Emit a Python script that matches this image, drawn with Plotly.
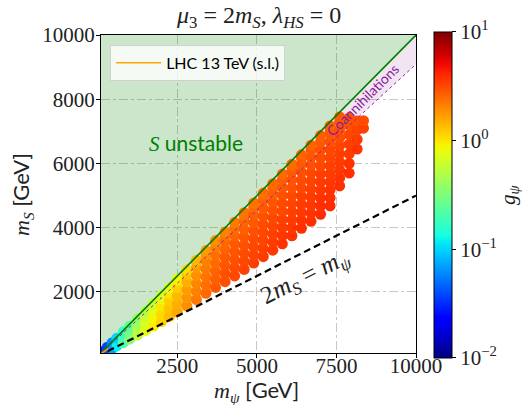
import numpy as np
import plotly.graph_objects as go

# ---------------- data ----------------
col_mpsi = [150, 300, 450, 600, 800, 1000, 1250, 1500, 1750, 2000, 2250, 2500, 2800, 3100, 3400, 3700,
            4000, 4300, 4600, 4900, 5200, 5500, 5800, 6100, 6400, 6700, 7000, 7300, 7600, 7900, 8150, 8350]
col_mS = [
    [90, 140],
    [170, 230, 280],
    [240, 330, 420],
    [320, 440, 560],
    [420, 570, 700, 760],
    [530, 700, 860, 940],
    [660, 860, 1040, 1170],
    [800, 1030, 1240, 1400],
    [940, 1180, 1420, 1600, 1650],
    [1080, 1320, 1560, 1780, 1890],
    [1230, 1480, 1730, 1960, 2130],
    [1380, 1630, 1880, 2130, 2340, 2400],
    [1560, 1810, 2060, 2310, 2540, 2690],
    [1760, 2010, 2260, 2510, 2760, 2930, 2990],
    [1960, 2210, 2460, 2710, 2960, 3170, 3290],
    [2140, 2390, 2640, 2890, 3140, 3390, 3540, 3600],
    [2320, 2570, 2820, 3070, 3320, 3570, 3760, 3870],
    [2500, 2750, 3000, 3250, 3500, 3750, 3980, 4170],
    [2700, 2950, 3200, 3450, 3700, 3950, 4200, 4380, 4470],
    [2900, 3150, 3400, 3650, 3900, 4150, 4400, 4620, 4770],
    [3100, 3350, 3600, 3850, 4100, 4350, 4600, 4850, 5000, 5080],
    [3300, 3550, 3800, 4050, 4300, 4550, 4800, 5050, 5260, 5370],
    [3500, 3750, 4000, 4250, 4500, 4750, 5000, 5250, 5500, 5670],
    [3750, 4000, 4250, 4500, 4750, 5000, 5250, 5500, 5750, 5900, 5980],
    [3980, 4230, 4480, 4730, 4980, 5230, 5480, 5730, 5980, 6180, 6270],
    [4200, 4450, 4700, 4950, 5200, 5450, 5700, 5950, 6200, 6420, 6570],
    [4420, 4670, 4920, 5170, 5420, 5670, 5920, 6170, 6420, 6670, 6870],
    [4680, 4930, 5180, 5430, 5680, 5930, 6180, 6430, 6680, 6930, 7080, 7170],
    [5300, 5550, 5800, 6050, 6300, 6550, 6800, 7050, 7300, 7450],
    [5700, 6000, 6300, 6600, 6900, 7200, 7420],
    [6450, 6750, 7050, 7320],
    [7100, 7330],
]
col_g = [
    [0.02, 0.025],
    [0.035, 0.04, 0.035],
    [0.07, 0.07, 0.06],
    [0.12, 0.12, 0.1],
    [0.22, 0.2, 0.18, 0.16],
    [0.35, 0.32, 0.28, 0.25],
    [0.55, 0.5, 0.42, 0.38],
    [0.75, 0.7, 0.6, 0.5],
    [0.95, 0.9, 0.8, 0.65, 0.6],
    [1.15, 1.1, 1.0, 0.85, 0.7],
    [1.35, 1.3, 1.2, 1.0, 0.8],
    [1.6, 1.5, 1.4, 1.2, 1.0, 0.9],
    [1.9, 1.8, 1.7, 1.5, 1.3, 1.1],
    [2.2, 2.1, 2.0, 1.9, 1.7, 1.5, 1.4],
    [2.5, 2.4, 2.3, 2.2, 2.1, 1.9, 1.7],
    [2.8, 2.7, 2.6, 2.5, 2.4, 2.2, 2.0, 1.9],
    [3.0, 3.0, 2.9, 2.8, 2.6, 2.5, 2.3, 2.1],
    [3.2, 3.1, 3.0, 2.9, 2.8, 2.6, 2.4, 2.2],
    [3.3, 3.2, 3.1, 3.0, 2.9, 2.7, 2.6, 2.4, 2.3],
    [3.4, 3.3, 3.2, 3.1, 3.0, 2.8, 2.7, 2.5, 2.3],
    [3.5, 3.4, 3.3, 3.2, 3.1, 3.0, 2.8, 2.7, 2.5, 2.4],
    [3.6, 3.5, 3.4, 3.3, 3.2, 3.0, 2.9, 2.7, 2.6, 2.5],
    [3.7, 3.6, 3.5, 3.4, 3.2, 3.1, 3.0, 2.8, 2.7, 2.5],
    [3.7, 3.6, 3.5, 3.4, 3.3, 3.2, 3.0, 2.9, 2.8, 2.6, 2.5],
    [3.8, 3.7, 3.6, 3.5, 3.4, 3.2, 3.1, 3.0, 2.8, 2.7, 2.6],
    [3.8, 3.7, 3.6, 3.5, 3.4, 3.3, 3.2, 3.0, 2.9, 2.8, 2.6],
    [3.9, 3.8, 3.7, 3.6, 3.5, 3.4, 3.2, 3.1, 3.0, 2.8, 2.7],
    [3.9, 3.8, 3.7, 3.6, 3.5, 3.4, 3.3, 3.2, 3.0, 2.9, 2.8, 2.7],
    [3.8, 3.7, 3.6, 3.5, 3.4, 3.3, 3.1, 3.0, 2.9, 2.8],
    [3.8, 3.7, 3.5, 3.4, 3.2, 3.0, 2.9],
    [3.7, 3.5, 3.3, 3.0],
    [3.4, 3.1],
]

# boundary lines (data units, GeV)
diag_mpsi = [0, 10000]
unstable_mS = [0, 10000]          # m_S = m_psi
coann_mS = [0, 9091]              # m_S = m_psi / 1.1
half_mS = [0, 5000]               # 2 m_S = m_psi
lhc_mpsi = [0, 320]
lhc_mS = [0, 230]

x_ticks = [2500, 5000, 7500, 10000]
x_labels = ["2500", "5000", "7500", "10000"]
y_ticks = [2000, 4000, 6000, 8000, 10000]
y_labels = ["2000", "4000", "6000", "8000", "10000"]
cb_ticks = [-2, -1, 0, 1]
cb_labels = ["10<sup>\u22122</sup>", "10<sup>\u22121</sup>", "10<sup>0</sup>", "10<sup>1</sup>"]

# ---------------- flatten ----------------
m_psi, m_S, g_psi = [], [], []
for xp, ys, gs in zip(col_mpsi, col_mS, col_g):
    for y, g in zip(ys, gs):
        m_psi.append(xp)
        m_S.append(y)
        g_psi.append(g)
logg = np.log10(np.array(g_psi))

# matplotlib 'jet' colorscale
r_pts = ([0, 0.35, 0.66, 0.89, 1], [0, 0, 1, 1, 0.5])
g_pts = ([0, 0.125, 0.375, 0.64, 0.91, 1], [0, 0, 1, 1, 0, 0])
b_pts = ([0, 0.11, 0.34, 0.65, 1], [0.5, 1, 1, 0, 0])
jet = []
for t in np.linspace(0, 1, 41):
    r = np.interp(t, *r_pts); gg = np.interp(t, *g_pts); b = np.interp(t, *b_pts)
    jet.append([float(t), f"rgb({int(round(r*255))},{int(round(gg*255))},{int(round(b*255))})"])

SERIF = "Liberation Serif, DejaVu Serif, serif"
SANS = "Lato"

fig = go.Figure()

fig.add_trace(go.Scatter(x=[diag_mpsi[0], diag_mpsi[1], diag_mpsi[0]],
                         y=[unstable_mS[0], unstable_mS[1], unstable_mS[1]],
                         fill="toself", fillcolor="rgba(0,128,0,0.2)", mode="none",
                         showlegend=False, hoverinfo="skip"))
fig.add_trace(go.Scatter(x=[diag_mpsi[0], diag_mpsi[1], diag_mpsi[1]],
                         y=[unstable_mS[0], unstable_mS[1], coann_mS[1]],
                         fill="toself", fillcolor="rgba(128,0,128,0.1)", mode="none",
                         showlegend=False, hoverinfo="skip"))

fig.add_trace(go.Scatter(x=m_psi, y=m_S, mode="markers", showlegend=False,
                         marker=dict(size=11, color=logg, colorscale=jet, cmin=-2, cmax=1,
                                     line=dict(width=0),
                                     colorbar=dict(thickness=18, len=326, lenmode="pixels",
                                                   x=1.057, xanchor="left", xpad=0,
                                                   y=0.497, yanchor="middle", ypad=0,
                                                   tickvals=cb_ticks, ticktext=cb_labels,
                                                   ticks="outside", ticklen=4, tickcolor="black",
                                                   tickfont=dict(family=SERIF, size=21, color="#222"),
                                                   outlinewidth=1, outlinecolor="black"))))

fig.add_trace(go.Scatter(x=diag_mpsi, y=unstable_mS, mode="lines",
                         line=dict(color="green", width=1.6), showlegend=False))
fig.add_trace(go.Scatter(x=diag_mpsi, y=coann_mS, mode="lines",
                         line=dict(color="#9b1fb0", width=1, dash="dot"), showlegend=False))
fig.add_trace(go.Scatter(x=diag_mpsi, y=half_mS, mode="lines",
                         line=dict(color="black", width=2.2, dash="7px,4px"), showlegend=False))
fig.add_trace(go.Scatter(x=lhc_mpsi, y=lhc_mS, mode="lines", name="LHC 13 TeV (s.l.)",
                         line=dict(color="orange", width=1.5), showlegend=True))

axis_common = dict(showline=True, linecolor="black", linewidth=1, mirror=True,
                   ticks="outside", ticklen=4, tickcolor="black",
                   tickfont=dict(family=SERIF, size=21, color="#222"),
                   showgrid=True, gridcolor="#c8c8c8", griddash="dashdot", gridwidth=1,
                   zeroline=False)
fig.update_xaxes(range=[100, 10000], tickvals=x_ticks, ticktext=x_labels,
                 ticklabelstandoff=-10, **axis_common)
fig.update_yaxes(range=[100, 10000], tickvals=y_ticks, ticktext=y_labels,
                 ticklabelstandoff=-3, **axis_common)

fig.update_layout(
    width=522, height=405,
    margin=dict(l=101, r=106, t=35, b=52),
    plot_bgcolor="white", paper_bgcolor="white",
    legend=dict(x=0.029, y=0.969, xanchor="left", yanchor="top", itemwidth=45,
                bgcolor="rgba(255,255,255,0.8)", bordercolor="#d0d0d0", borderwidth=1,
                font=dict(family=SANS, size=16, color="black")),
    annotations=[
        dict(text="<i>\u03bc</i><sub>3</sub> = 2<i>m<sub>S</sub></i>, <i>\u03bb<sub>HS</sub></i> = 0",
             xref="paper", yref="paper", x=0.5, y=1.057, xanchor="center", yanchor="middle",
             showarrow=False, font=dict(family=SERIF, size=24, color="#222")),
        dict(text="<i>m<sub>\u03c8</sub></i> <span style='font-family:Lato'>[GeV]</span>",
             xref="paper", yref="paper", x=0.495, y=-0.12, xanchor="center", yanchor="middle",
             showarrow=False, font=dict(family=SERIF, size=22, color="#222")),
        dict(text="<i>m<sub>S</sub></i> <span style='font-family:Lato'>[GeV]</span>",
             xref="paper", yref="paper", x=-0.251, y=0.5, xanchor="center", yanchor="middle",
             textangle=-90, showarrow=False, font=dict(family=SERIF, size=22, color="#222")),
        dict(text="<i>g<sub>\u03c8</sub></i>",
             xref="paper", yref="paper", x=1.295, y=0.5, xanchor="center", yanchor="middle",
             textangle=-90, showarrow=False, font=dict(family=SERIF, size=21, color="#222")),
        dict(text="<i>S</i> <span style='font-family:Lato'>unstable</span>",
             x=3080, y=6630, xanchor="center", yanchor="middle",
             showarrow=False, font=dict(family=SERIF, size=21, color="green")),
        dict(text="Coannihilations", x=8330, y=7990, xanchor="center", yanchor="middle",
             textangle=-45, showarrow=False, font=dict(family=SANS, size=14, color="#8a1a9a")),
        dict(text="2<i>m<sub>S</sub></i> = <i>m<sub>\u03c8</sub></i>", x=6530, y=2440,
             xanchor="center", yanchor="middle", textangle=-26.6, showarrow=False,
             font=dict(family=SERIF, size=25, color="#222")),
    ],
)

fig.write_html("out.html")
